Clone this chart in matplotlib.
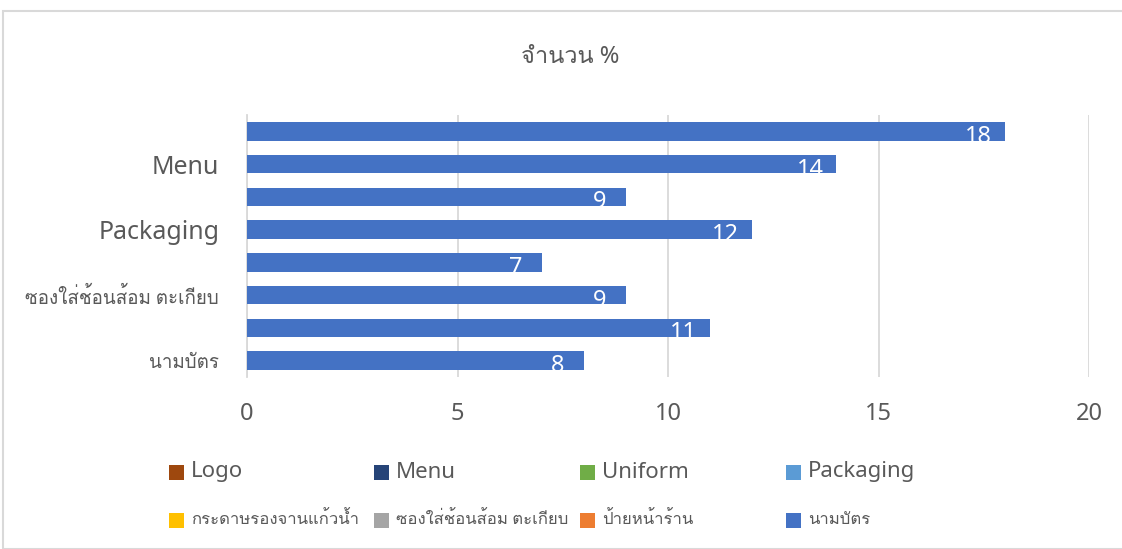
import matplotlib
matplotlib.use("Agg")
import matplotlib.pyplot as plt
from matplotlib import font_manager, ft2font
from matplotlib.patches import Rectangle

categories = ["Logo", "Menu", "Uniform", "Packaging",
              "กระดาษรองจานแก้วน้ำ", "ซองใส่ช้อนส้อม ตะเกียบ", "ป้ายหน้าร้าน", "นามบัตร"]
values = [18, 14, 9, 12, 7, 9, 11, 8]
legend_colors = ["#9E480E", "#264478", "#70AD47", "#5B9BD5",
                 "#FFC000", "#A5A5A5", "#ED7D31", "#4472C4"]
xticks = [0, 5, 10, 15, 20]
title = "จำนวน %"

BAR = "#4472C4"
TXT = "#595959"
GRID = "#D9D9D9"
W, H = 1122, 549


def thai_font():
    # first installed family that actually has Thai glyphs
    for f in font_manager.fontManager.ttflist:
        try:
            cmap = ft2font.FT2Font(f.fname).get_charmap()
        except Exception:
            continue
        if 0x0E08 in cmap and 0x0E33 in cmap:
            return f.name
    return None


th = thai_font()
fams = ["Noto Sans"] + ([th] if th else []) + ["DejaVu Sans"]
plt.rcParams["font.family"] = fams


def fx(px):
    return px / W


def fy(py):
    return 1 - py / H


fig = plt.figure(figsize=(W / 100, H / 100), dpi=100)
ax = fig.add_axes([fx(247), fy(377), fx(1089 - 247), (377 - 115) / H])

ypos = list(range(len(categories)))
ax.barh(ypos, values, height=0.57, color=BAR, zorder=3)
ax.set_ylim(len(categories) - 0.5, -0.5)
ax.set_xlim(xticks[0], xticks[-1])

for y, v in zip(ypos, values):
    ax.annotate(str(v), (v, y), xytext=(-19, -4), textcoords="offset points",
                ha="center", va="center", color="white", fontsize=17, zorder=4)

ax.set_xticks(xticks)
ax.set_xticklabels([str(t) for t in xticks], fontsize=17, color=TXT)
ax.tick_params(axis="x", length=0, pad=18)
ax.xaxis.grid(True, color=GRID, linewidth=1.3, zorder=0)

# only every second category gets a label on the axis
shown = ypos[1::2]
ax.set_yticks(shown)
ax.set_yticklabels([categories[i] for i in shown], color=TXT)
for lab, size in zip(ax.get_yticklabels(), [18, 18, 13.5, 13.5]):
    lab.set_fontsize(size)
ax.tick_params(axis="y", length=0, pad=20)

for s in ["top", "right", "bottom"]:
    ax.spines[s].set_visible(False)
ax.spines["left"].set_color(GRID)
ax.spines["left"].set_linewidth(1.3)

fig.text(fx(570), fy(57), title, ha="center", va="center",
         fontsize=17, color=TXT)

# legend, laid out as a 4x2 grid of colour squares and names
col_x = [169, 374, 580, 786]
row_y = [472, 520]
row_size = [16, 12]
sq = 15
for i, (name, c) in enumerate(zip(categories, legend_colors)):
    r, k = divmod(i, 4)
    x0, yc = col_x[k], row_y[r]
    fig.add_artist(Rectangle((fx(x0), fy(yc + sq / 2)), sq / W, sq / H,
                             transform=fig.transFigure, color=c, lw=0))
    fig.text(fx(x0 + 22), fy(yc), name, ha="left", va="center",
             fontsize=row_size[r], color=TXT)

fig.add_artist(Rectangle((fx(3), 0), 1.0, fy(11), transform=fig.transFigure,
                         fill=False, edgecolor=GRID, linewidth=1.5))

fig.savefig("out.png", dpi=100)
